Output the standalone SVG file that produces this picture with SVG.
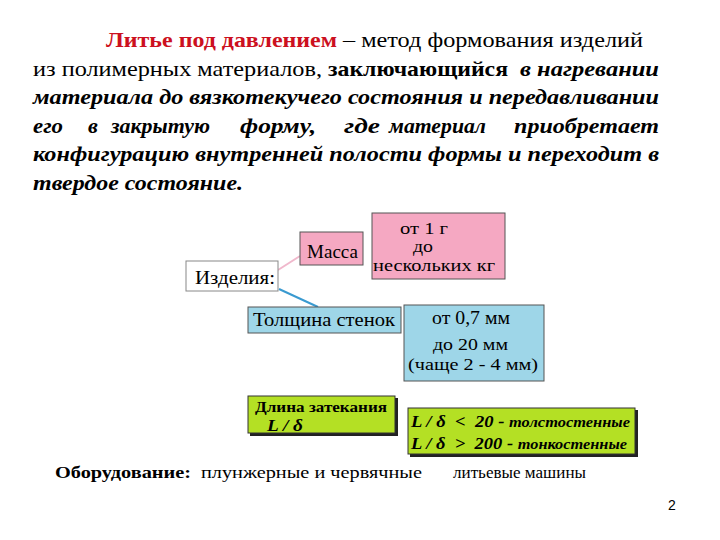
<svg xmlns="http://www.w3.org/2000/svg" width="720" height="540" viewBox="0 0 720 540">
<style>
  text { font-family: "Liberation Serif", "Times New Roman", serif; fill: #000; }
  .body { font-size: 22px; }
  .bi { font-weight: bold; font-style: italic; }
  .b { font-weight: bold; }
  .red { fill: #CC1020; }
  .box { font-size: 19px; }
  .pink { fill: #F5A8C2; stroke: #555; stroke-width: 1; }
  .blue { fill: #9ED6E8; stroke: #555; stroke-width: 1; }
  .green { fill: #B4E024; stroke: #333; stroke-width: 1; }
  .shadow { fill: #222; }
</style>
<rect width="720" height="540" fill="#fff"/>

<g id="title" font-family="Liberation Serif, Times New Roman, serif">
  <text class="body b red" x="106" y="47" textLength="231" lengthAdjust="spacingAndGlyphs">Литье под давлением</text>
  <text class="body" x="343" y="47" textLength="300" lengthAdjust="spacingAndGlyphs">– метод формования изделий</text>

  <text class="body" x="33" y="76" textLength="289" lengthAdjust="spacingAndGlyphs">из полимерных материалов,</text>
  <text class="body b" x="328" y="76" textLength="180" lengthAdjust="spacingAndGlyphs">заключающийся</text>
  <text class="body bi" x="520" y="76" textLength="139" lengthAdjust="spacingAndGlyphs">в нагревании</text>

  <text class="body bi" x="33" y="104" textLength="626" lengthAdjust="spacingAndGlyphs">материала до вязкотекучего состояния и передавливании</text>

  <text class="body bi" x="33" y="133" textLength="30" lengthAdjust="spacingAndGlyphs">его</text>
  <text class="body bi" x="88" y="133">в</text>
  <text class="body bi" x="111" y="133" textLength="99" lengthAdjust="spacingAndGlyphs">закрытую</text>
  <text class="body bi" x="240" y="133" textLength="76" lengthAdjust="spacingAndGlyphs">форму,</text>
  <text class="body bi" x="344" y="133" textLength="36" lengthAdjust="spacingAndGlyphs">где</text>
  <text class="body bi" x="389" y="133" textLength="97" lengthAdjust="spacingAndGlyphs">материал</text>
  <text class="body bi" x="514" y="133" textLength="145" lengthAdjust="spacingAndGlyphs">приобретает</text>

  <text class="body bi" x="33" y="161" textLength="626" lengthAdjust="spacingAndGlyphs">конфигурацию внутренней полости формы и переходит в</text>
  <text class="body bi" x="33" y="190" textLength="210" lengthAdjust="spacingAndGlyphs">твердое состояние.</text>
</g>

<g id="connectors">
  <line x1="278" y1="270" x2="300" y2="256" stroke="#F0B8CC" stroke-width="2"/>
  <line x1="279" y1="289" x2="318" y2="307" stroke="#3A9AD0" stroke-width="2"/>
</g>

<g id="izdeliya">
  <rect x="186" y="261" width="92" height="30" fill="#fff" stroke="#888" stroke-width="1"/>
  <text class="box" x="195" y="284" textLength="80" lengthAdjust="spacingAndGlyphs">Изделия:</text>
</g>

<g id="massa">
  <rect class="pink" x="300" y="232" width="63" height="33"/>
  <text class="box" x="307" y="258" textLength="51" lengthAdjust="spacingAndGlyphs">Масса</text>
</g>

<g id="massa-range">
  <rect class="pink" x="372" y="213" width="133" height="66"/>
  <text font-size="16" x="400" y="234" textLength="48" lengthAdjust="spacingAndGlyphs">от 1 г</text>
  <text font-size="16" x="413" y="252" textLength="20" lengthAdjust="spacingAndGlyphs">до</text>
  <text font-size="16" x="373" y="271" textLength="122" lengthAdjust="spacingAndGlyphs">нескольких кг</text>
</g>

<g id="tolshchina">
  <rect class="blue" x="248" y="307" width="153" height="26"/>
  <text class="box" x="253" y="326" textLength="142" lengthAdjust="spacingAndGlyphs">Толщина стенок</text>
</g>

<g id="tolshchina-range">
  <rect class="blue" x="404" y="305" width="140" height="76"/>
  <text font-size="18" x="432" y="324" textLength="78" lengthAdjust="spacingAndGlyphs">от 0,7 мм</text>
  <text font-size="17" x="433" y="350" textLength="75" lengthAdjust="spacingAndGlyphs">до 20 мм</text>
  <text font-size="17" x="408" y="370" textLength="130" lengthAdjust="spacingAndGlyphs">(чаще 2 - 4 мм)</text>
</g>

<g id="dlina">
  <rect class="shadow" x="250" y="398" width="148" height="38"/>
  <rect class="green" x="248" y="396" width="147" height="37"/>
  <text font-size="15" font-weight="bold" fill="#1a1a1a" x="255" y="412" textLength="132" lengthAdjust="spacingAndGlyphs">Длина затекания</text>
  <text class="bi" font-size="17" x="267" y="431" textLength="36" lengthAdjust="spacingAndGlyphs">L / δ</text>
</g>

<g id="criteria">
  <rect class="shadow" x="410" y="410" width="228" height="47"/>
  <rect class="green" x="408" y="408" width="227" height="46"/>
  <text class="bi" font-size="17" x="411" y="427" textLength="219" lengthAdjust="spacingAndGlyphs" xml:space="preserve">L / δ  &lt;  20 - <tspan font-size="15">толстостенные</tspan></text>
  <text class="bi" font-size="17" x="411" y="449" textLength="216" lengthAdjust="spacingAndGlyphs" xml:space="preserve">L / δ  &gt;  200 - <tspan font-size="15">тонкостенные</tspan></text>
</g>

<g id="equipment">
  <text class="b" font-size="16" x="55" y="478" textLength="136" lengthAdjust="spacingAndGlyphs">Оборудование:</text>
  <text font-size="17" x="201" y="478" textLength="221" lengthAdjust="spacingAndGlyphs">плунжерные и червячные</text>
  <text font-size="17" x="453" y="478" textLength="133" lengthAdjust="spacingAndGlyphs">литьевые машины</text>
</g>

<text style="font-family: 'Liberation Sans', Arial, sans-serif" font-size="14" x="668" y="510">2</text>
</svg>
